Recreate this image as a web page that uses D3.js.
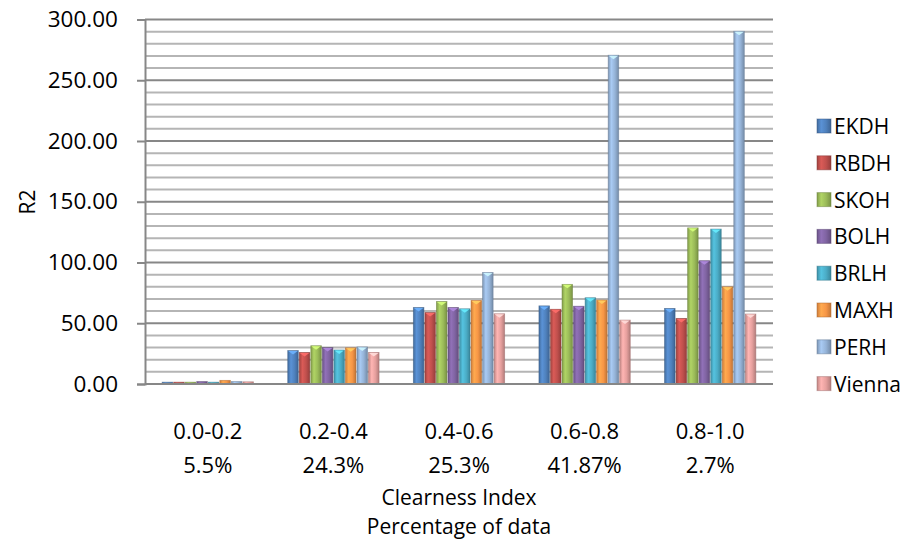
<!DOCTYPE html>
<html><head><meta charset="utf-8">
<script src="https://cdn.jsdelivr.net/npm/d3@7/dist/d3.min.js"></script>
<style>
body{margin:0;background:#fff;}
text{font-family:"Open Sans",Lato,sans-serif;fill:#000;}
</style></head>
<body><svg id="c" width="920" height="540"></svg>
<script>
const categories = ["0.0-0.2","0.2-0.4","0.4-0.6","0.6-0.8","0.8-1.0"];
const percentages = ["5.5%","24.3%","25.3%","41.87%","2.7%"];
const seriesNames = ["EKDH","RBDH","SKOH","BOLH","BRLH","MAXH","PERH","Vienna"];
const EKDH   = [1.5, 27.5, 63.0, 64.3, 62.2];
const RBDH   = [1.5, 26.0, 58.9, 61.5, 54.0];
const SKOH   = [1.5, 31.5, 67.9, 82.0, 128.5];
const BOLH   = [2.0, 30.0, 63.0, 64.0, 101.5];
const BRLH   = [1.5, 28.0, 61.9, 71.0, 127.5];
const MAXH   = [3.0, 29.8, 68.8, 69.1, 80.0];
const PERH   = [2.0, 30.5, 91.8, 270.6, 290.3];
const Vienna = [1.8, 26.0, 57.8, 52.6, 57.6];
const seriesValues = [EKDH,RBDH,SKOH,BOLH,BRLH,MAXH,PERH,Vienna];
const yTicks = [0,50,100,150,200,250,300];
const colors = ["#4F81BD","#C0504D","#9BBB59","#8064A2","#4BACC6","#F79646","#95B3D7","#E6A09E"];

const svg = d3.select("#c");
const m = {left:145, right:773, top:19.5, bottom:384};
const x0 = d3.scaleBand().domain(categories).range([m.left,m.right]).paddingInner(0.265).paddingOuter(0.1325);
const x1 = d3.scaleBand().domain(seriesNames).range([0,x0.bandwidth()]).padding(0);
const y = d3.scaleLinear().domain([0,300]).range([m.bottom,m.top]);

const defs = svg.append("defs");
colors.forEach((c,i)=>{
  const g = defs.append("linearGradient").attr("id","g"+i).attr("x1","0").attr("x2","1").attr("y1","0").attr("y2","0");
  g.append("stop").attr("offset","0%").attr("stop-color",d3.color(c).darker(0.5));
  g.append("stop").attr("offset","30%").attr("stop-color",d3.color(c).brighter(0.35));
  g.append("stop").attr("offset","65%").attr("stop-color",d3.color(c));
  g.append("stop").attr("offset","100%").attr("stop-color",d3.color(c).darker(0.7));
});

const minor = d3.range(10,301,10).filter(v=>v%50!==0);
svg.append("g").selectAll("line").data(minor).join("line")
  .attr("x1",m.left).attr("x2",m.right).attr("y1",d=>y(d)).attr("y2",d=>y(d))
  .attr("stroke","#B5B5B5").attr("stroke-width",2);
svg.append("g").selectAll("line").data(yTicks.filter(v=>v>0)).join("line")
  .attr("x1",m.left).attr("x2",m.right).attr("y1",d=>y(d)).attr("y2",d=>y(d))
  .attr("stroke","#878787").attr("stroke-width",2);

const yAxis = d3.axisLeft(y).tickValues(yTicks).tickFormat(d3.format(".2f")).tickSize(8).tickPadding(19);
const ya = svg.append("g").attr("transform",`translate(${m.left},0)`).call(yAxis);
ya.select(".domain").attr("stroke","#878787").attr("stroke-width",2);
ya.selectAll(".tick line").attr("stroke","#878787").attr("stroke-width",2);
ya.selectAll(".tick text").attr("font-size",22.5).attr("font-family","'Open Sans',sans-serif").attr("fill","#000");

const groups = svg.append("g").selectAll("g").data(categories).join("g")
  .attr("transform",d=>`translate(${x0(d)},0)`);
groups.each(function(cat,ci){
  const g = d3.select(this);
  seriesNames.forEach((s,si)=>{
    const v = seriesValues[si][ci];
    const bx = x1(s), bw = x1.bandwidth();
    g.append("rect").attr("x",bx+0.5).attr("y",y(v)).attr("width",bw-1).attr("height",y(0)-y(v))
      .attr("fill",`url(#g${si})`).attr("stroke",d3.color(colors[si]).darker(1)).attr("stroke-opacity",0.6).attr("stroke-width",0.8);
    if (y(0)-y(v) > 6) {
      g.append("path")
        .attr("d",`M${bx+1},${y(v)+0.5} L${bx+bw-1},${y(v)+0.5} L${bx+bw/2},${y(v)+4}Z`)
        .attr("fill",d3.color(colors[si]).brighter(0.9)).attr("opacity",0.9);
    }
  });
});

svg.append("line").attr("x1",m.left).attr("x2",m.right).attr("y1",y(0)).attr("y2",y(0))
  .attr("stroke","#878787").attr("stroke-width",2);

svg.append("g").selectAll("text").data(categories).join("text")
  .attr("x",d=>x0(d)+x0.bandwidth()/2).attr("y",439).attr("text-anchor","middle").attr("font-size",22).text(d=>d);
svg.append("g").selectAll("text").data(percentages).join("text")
  .attr("x",(d,i)=>x0(categories[i])+x0.bandwidth()/2).attr("y",473).attr("text-anchor","middle").attr("font-size",22).text(d=>d);

svg.append("text").attr("x",459).attr("y",505).attr("text-anchor","middle").attr("font-size",21).text("Clearness Index");
svg.append("text").attr("x",459).attr("y",534).attr("text-anchor","middle").attr("font-size",21).text("Percentage of data");
svg.append("text").attr("transform","translate(35,202) rotate(-90)").attr("text-anchor","middle").attr("font-size",21).text("R2");

const lg = svg.append("g").selectAll("g").data(seriesNames).join("g")
  .attr("transform",(d,i)=>`translate(817,${126 + i*36.8})`);
lg.append("rect").attr("x",0).attr("y",-7).attr("width",14).attr("height",14)
  .attr("fill",(d,i)=>`url(#g${i})`).attr("stroke",(d,i)=>d3.color(colors[i]).darker(1)).attr("stroke-opacity",0.5);
lg.append("text").attr("x",17).attr("y",8).attr("font-size",21).text(d=>d);
</script></body></html>
